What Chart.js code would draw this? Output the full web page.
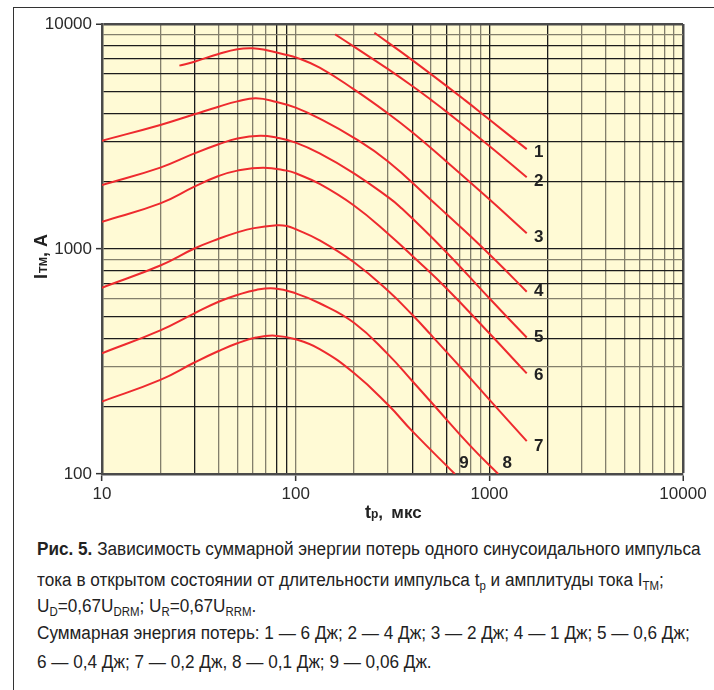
<!DOCTYPE html>
<html>
<head>
<meta charset="utf-8">
<script src="https://cdn.jsdelivr.net/npm/chart.js@4.4.1/dist/chart.umd.min.js"></script>
<style>
  body { margin: 0; background: #fff; }
  #page { position: relative; width: 714px; height: 690px; overflow: hidden; background: #fff; }
  #frame { position: absolute; left: 13px; top: 7px; width: 720px; height: 700px;
           border-top: 1.5px solid #333; border-left: 1.5px solid #333; }
  #chart { position: absolute; left: 0; top: 0; }
  .cap { position: absolute; left: 37px; white-space: nowrap; color: #222;
         font-family: "Liberation Sans", Arial, sans-serif;
         font-size: 18px; line-height: 20px; transform-origin: 0 50%; }
  .cap b { font-weight: bold; }
  .cap sub { font-size: 12px; vertical-align: -4px; line-height: 0; }
</style>
</head>
<body>
<div id="page">
  <div id="frame"></div>
  <canvas id="chart" width="714" height="530"></canvas>
  <div class="cap" style="top:539px"><b>Рис. 5.</b> Зависимость суммарной энергии потерь одного синусоидального импульса</div>
  <div class="cap" style="top:570px">тока в открытом состоянии от длительности импульса t<sub>p</sub> и амплитуды тока I<sub>TM</sub>;</div>
  <div class="cap" style="top:596px">U<sub>D</sub>=0,67U<sub>DRM</sub>; U<sub>R</sub>=0,67U<sub>RRM</sub>.</div>
  <div class="cap" style="top:623px">Суммарная энергия потерь: 1 — 6 Дж; 2 — 4 Дж; 3 — 2 Дж; 4 — 1 Дж; 5 — 0,6 Дж;</div>
  <div class="cap" style="top:652px">6 — 0,4 Дж; 7 — 0,2 Дж, 8 — 0,1 Дж; 9 — 0,06 Дж.</div>
</div>
<script>
// DATA (tp in мкс, ITM in A)
const xTickLabels = [10, 100, 1000, 10000];
const yTickLabels = [100, 1000, 10000];
const curveNames = ['1', '2', '3', '4', '5', '6', '7', '8', '9'];

const tp1 = [255, 400, 748, 1000, 1560];
const itm1 = [9140, 6910, 4590, 3760, 2780];

const tp2 = [160, 200, 300, 400, 500, 600, 1000, 1560];
const itm2 = [9000, 7930, 6300, 5300, 4600, 4080, 2870, 2084];

const tp3 = [25.1, 30, 40, 50, 60, 70, 90, 100, 133, 200, 300, 400, 600, 1000, 1560];
const itm3 = [6530, 6800, 7360, 7730, 7800, 7660, 7280, 7110, 6400, 5120, 4000, 3300, 2450, 1663, 1175];

const tp4 = [10, 20, 30, 40, 50, 62.4, 80, 100, 133, 200, 300, 500, 600, 800, 1092, 1560];
const itm4 = [3030, 3560, 3970, 4290, 4530, 4680, 4500, 4250, 3800, 3120, 2450, 1652, 1430, 1140, 880, 646];

const tp5 = [10, 20, 30, 40, 50, 65.5, 80, 100, 133, 200, 300, 345, 578, 1000, 1560];
const itm5 = [1925, 2300, 2660, 2920, 3100, 3190, 3125, 2970, 2660, 2170, 1700, 1542, 1000, 604, 404];

const tp6 = [10, 20, 30, 40, 50, 68, 90, 100, 133, 200, 300, 422, 600, 1000, 1560];
const itm6 = [1321, 1595, 1893, 2110, 2230, 2297, 2230, 2170, 1945, 1560, 1170, 893, 669, 422, 280];

const tp7 = [10, 20, 30, 40, 50, 60, 80, 90, 100, 133, 200, 300, 400, 500, 700, 1000, 1560];
const itm7 = [673, 845, 1005, 1110, 1185, 1235, 1274, 1265, 1225, 1093, 873, 652, 510, 415, 302, 214, 140];

const tp8 = [10, 20, 30, 40, 50, 62.5, 78, 100, 133, 200, 300, 400, 500, 800, 1112];
const itm8 = [344, 435, 518, 583, 625, 658, 668, 635, 574, 470, 340, 259, 209, 133, 100];

const tp9 = [10, 20, 30, 40, 50, 62.5, 78, 100, 133, 200, 300, 400, 664];
const itm9 = [210, 262, 313, 352, 381, 404, 412, 397, 359, 281, 203, 155, 100];

const allTp = [tp1, tp2, tp3, tp4, tp5, tp6, tp7, tp8, tp9];
const allItm = [itm1, itm2, itm3, itm4, itm5, itm6, itm7, itm8, itm9];

// STYLE
const red = '#ee2a2e';
const darkGrid = '#1c1c1c';
const lightGrid = '#837f6c';
const frameColor = '#4a4a4a';
const lightX = [20, 40, 50, 60, 70, 100, 200, 300, 500, 700, 800, 900, 3000, 4000, 5000, 6000, 7000, 8000, 9000];
const lightY = [900, 600, 300, 9000];
const labelOffsets = [[12, 3], [12, 4], [12, 4], [12, 0], [12, 0], [12, 2], [12, 5], [9, -11], [9, -11]];

function gridValues(min, max) {
  const v = [];
  for (let d = min; d < max; d *= 10) {
    for (let k = 1; k < 10; k++) v.push(d * k);
  }
  v.push(max);
  return v;
}

const datasets = allTp.map((xs, i) => ({
  label: curveNames[i],
  data: xs.map((x, j) => ({ x: x, y: allItm[i][j] })),
  borderColor: red,
  borderWidth: 2,
  pointRadius: 0,
  tension: 0.45,
  fill: false
}));

// yellow plot background
const plotBackground = {
  id: 'plotBackground',
  beforeDraw(chart) {
    const { ctx, chartArea: a } = chart;
    ctx.save();
    ctx.fillStyle = '#fffad5';
    ctx.fillRect(a.left, a.top, a.right - a.left, a.bottom - a.top);
    ctx.restore();
  }
};

// curve numbers and axis titles
const annotations = {
  id: 'annotations',
  afterDraw(chart) {
    const { ctx, chartArea: a } = chart;
    const xs = chart.scales.x, ys = chart.scales.y;
    ctx.save();
    ctx.fillStyle = '#222';
    ctx.font = 'bold 17px "Liberation Sans", Arial, sans-serif';
    ctx.textAlign = 'center';
    ctx.textBaseline = 'middle';
    allTp.forEach((xsArr, i) => {
      const n = xsArr.length - 1;
      const px = xs.getPixelForValue(xsArr[n]) + labelOffsets[i][0];
      const py = ys.getPixelForValue(allItm[i][n]) + labelOffsets[i][1];
      ctx.fillText(curveNames[i], px, py);
    });

    // x title: tp,  мкс
    ctx.textAlign = 'left';
    ctx.textBaseline = 'alphabetic';
    let x = a.left + 263, y = a.bottom + 44;
    ctx.font = 'bold 18px "Liberation Sans", Arial, sans-serif';
    ctx.fillText('t', x, y);
    x += ctx.measureText('t').width;
    ctx.font = 'bold 12px "Liberation Sans", Arial, sans-serif';
    ctx.fillText('p', x, y);
    x += ctx.measureText('p').width;
    ctx.font = 'bold 17px "Liberation Sans", Arial, sans-serif';
    ctx.fillText(',', x, y);
    ctx.fillText('мкс', x + 13, y);

    // y title: ITM, A (rotated)
    ctx.translate(47, (a.top + a.bottom) / 2 + 30);
    ctx.rotate(-Math.PI / 2);
    let t = 0;
    ctx.font = 'bold 18px "Liberation Sans", Arial, sans-serif';
    ctx.fillText('I', t, 0);
    t += ctx.measureText('I').width + 1;
    ctx.font = 'bold 11px "Liberation Sans", Arial, sans-serif';
    ctx.fillText('TM', t, 0);
    t += ctx.measureText('TM').width;
    ctx.font = 'bold 18px "Liberation Sans", Arial, sans-serif';
    ctx.fillText(', A', t, 0);
    ctx.restore();
  }
};

function gridColor(light, max) {
  return ctx => {
    const v = ctx.tick.value;
    if (v === max) return frameColor;
    return light.includes(v) ? lightGrid : darkGrid;
  };
}
function gridWidth(max) {
  return ctx => (ctx.tick.value === max ? 2.5 : 1.3);
}

const chart = new Chart(document.getElementById('chart'), {
  type: 'line',
  data: { datasets: datasets },
  plugins: [plotBackground, annotations],
  options: {
    responsive: false,
    animation: false,
    devicePixelRatio: 1,
    layout: { padding: { top: 24, right: 31, left: 0, bottom: 0 } },
    plugins: { legend: { display: false }, tooltip: { enabled: false } },
    scales: {
      x: {
        type: 'logarithmic',
        min: 10,
        max: 10000,
        afterFit: s => { s.height = 56; },
        afterBuildTicks: s => { s.ticks = gridValues(10, 10000).map(v => ({ value: v })); },
        border: { color: frameColor, width: 2.5 },
        grid: {
          color: gridColor(lightX, 10000),
          lineWidth: gridWidth(10000),
          tickLength: 7,
          tickColor: ctx => (xTickLabels.includes(ctx.tick.value) ? '#333' : 'rgba(0,0,0,0)'),
          tickWidth: 1.5
        },
        ticks: {
          autoSkip: false,
          maxRotation: 0,
          padding: 3,
          color: '#2a2a2a',
          font: { family: '"Liberation Sans", Arial, sans-serif', size: 17 },
          callback: v => (xTickLabels.includes(v) ? String(v) : '')
        }
      },
      y: {
        type: 'logarithmic',
        min: 100,
        max: 10000,
        afterFit: s => { s.width = 102; },
        afterBuildTicks: s => { s.ticks = gridValues(100, 10000).map(v => ({ value: v })); },
        border: { color: frameColor, width: 2.5 },
        grid: {
          color: gridColor(lightY, 10000),
          lineWidth: gridWidth(10000),
          tickLength: 6,
          tickColor: ctx => (yTickLabels.includes(ctx.tick.value) ? '#333' : 'rgba(0,0,0,0)'),
          tickWidth: 1.5
        },
        ticks: {
          autoSkip: false,
          padding: 4,
          color: '#2a2a2a',
          font: { family: '"Liberation Sans", Arial, sans-serif', size: 17 },
          callback: v => (yTickLabels.includes(v) ? String(v) : '')
        }
      }
    }
  }
});

// squeeze caption to the narrow width of the printed font
const caps = document.querySelectorAll('.cap');
const squeeze = 663 / caps[0].scrollWidth;
caps.forEach(c => { c.style.transform = 'scaleX(' + squeeze.toFixed(3) + ')'; });
</script>
</body>
</html>
